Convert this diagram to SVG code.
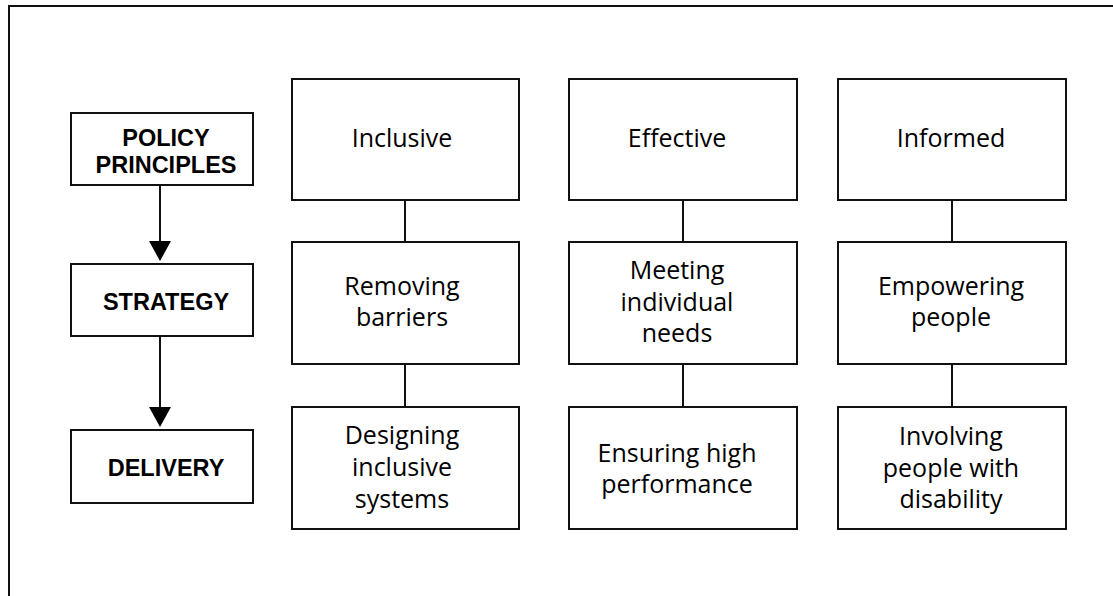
<svg xmlns="http://www.w3.org/2000/svg" width="1113" height="596" viewBox="0 0 1113 596">
  <style>
    .frame { fill: none; stroke: #111; stroke-width: 2; }
    .box { fill: #fff; stroke: #111; stroke-width: 2; }
    .link { stroke: #111; stroke-width: 2; fill: none; }
    .stage { font-family: "Liberation Sans", Arial, sans-serif; font-weight: bold; font-size: 23.5px; fill: #000; text-anchor: middle; }
    .item { font-family: "Open Sans", "DejaVu Sans", sans-serif; font-size: 25px; fill: #000; text-anchor: middle; }
  </style>
  <defs>
    <marker id="head" markerUnits="userSpaceOnUse" markerWidth="22" markerHeight="22" refX="0" refY="11" orient="auto">
      <path d="M0,0 L20,11 L0,22 Z" fill="#000"/>
    </marker>
  </defs>

  <rect width="1113" height="596" fill="#fff"/>
  <!-- outer frame, open past the right and bottom edges -->
  <rect class="frame" x="9" y="6" width="1120" height="610"/>

  <!-- connectors -->
  <g id="connectors">
    <line class="link" x1="160" y1="185" x2="160" y2="241" marker-end="url(#head)"/>
    <line class="link" x1="160" y1="336" x2="160" y2="407" marker-end="url(#head)"/>
    <line class="link" x1="405" y1="200" x2="405" y2="242"/>
    <line class="link" x1="405" y1="364" x2="405" y2="407"/>
    <line class="link" x1="683" y1="200" x2="683" y2="242"/>
    <line class="link" x1="683" y1="364" x2="683" y2="407"/>
    <line class="link" x1="952" y1="200" x2="952" y2="242"/>
    <line class="link" x1="952" y1="364" x2="952" y2="407"/>
  </g>

  <!-- stage column -->
  <g id="policy-principles">
    <rect class="box" x="71" y="113" width="182" height="72"/>
    <text class="stage" x="166" y="146">POLICY</text>
    <text class="stage" x="166" y="173">PRINCIPLES</text>
  </g>
  <g id="strategy">
    <rect class="box" x="71" y="264" width="182" height="72"/>
    <text class="stage" x="166" y="310">STRATEGY</text>
  </g>
  <g id="delivery">
    <rect class="box" x="71" y="430" width="182" height="73"/>
    <text class="stage" x="166" y="476">DELIVERY</text>
  </g>

  <!-- Inclusive column -->
  <g id="inclusive">
    <rect class="box" x="292" y="79" width="227" height="121"/>
    <text class="item" x="402" y="147">Inclusive</text>
  </g>
  <g id="removing-barriers">
    <rect class="box" x="292" y="242" width="227" height="122"/>
    <text class="item" x="402" y="295">Removing</text>
    <text class="item" x="402" y="326">barriers</text>
  </g>
  <g id="designing-inclusive-systems">
    <rect class="box" x="292" y="407" width="227" height="122"/>
    <text class="item" x="402" y="444">Designing</text>
    <text class="item" x="402" y="476">inclusive</text>
    <text class="item" x="402" y="508">systems</text>
  </g>

  <!-- Effective column -->
  <g id="effective">
    <rect class="box" x="569" y="79" width="228" height="121"/>
    <text class="item" x="677" y="147">Effective</text>
  </g>
  <g id="meeting-individual-needs">
    <rect class="box" x="569" y="242" width="228" height="122"/>
    <text class="item" x="677" y="279">Meeting</text>
    <text class="item" x="677" y="311">individual</text>
    <text class="item" x="677" y="342">needs</text>
  </g>
  <g id="ensuring-high-performance">
    <rect class="box" x="569" y="407" width="228" height="122"/>
    <text class="item" x="677" y="462">Ensuring high</text>
    <text class="item" x="677" y="493">performance</text>
  </g>

  <!-- Informed column -->
  <g id="informed">
    <rect class="box" x="838" y="79" width="228" height="121"/>
    <text class="item" x="951" y="147">Informed</text>
  </g>
  <g id="empowering-people">
    <rect class="box" x="838" y="242" width="228" height="122"/>
    <text class="item" x="951" y="295">Empowering</text>
    <text class="item" x="951" y="326">people</text>
  </g>
  <g id="involving-people-with-disability">
    <rect class="box" x="838" y="407" width="228" height="122"/>
    <text class="item" x="951" y="445">Involving</text>
    <text class="item" x="951" y="477">people with</text>
    <text class="item" x="951" y="508">disability</text>
  </g>
</svg>
